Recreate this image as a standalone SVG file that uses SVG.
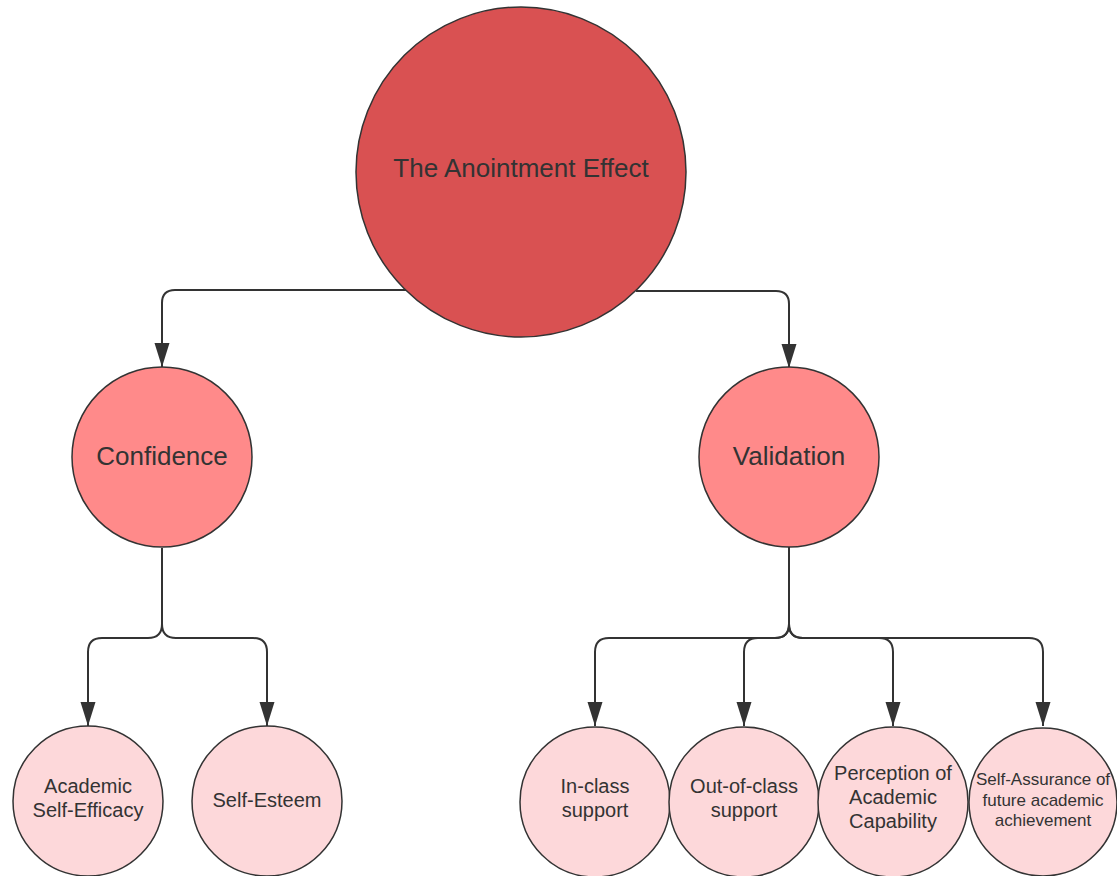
<svg xmlns="http://www.w3.org/2000/svg" width="1117" height="876" viewBox="0 0 1117 876">
<style>
.c{stroke:#333;stroke-width:1.5}
.l0{fill:#D95152}
.l1{fill:#FF8A8A}
.l2{fill:#FDD8DA}
text{font-family:"Liberation Sans",Arial,sans-serif;fill:#333;text-anchor:middle}
.t0{font-size:26px}
.t2{font-size:20px}
.t3{font-size:17px}
.e{fill:none;stroke:#333;stroke-width:2}
</style>
<defs>
<marker id="arr" viewBox="0 0 24 16" refX="24" refY="8" markerWidth="24" markerHeight="16" markerUnits="userSpaceOnUse" orient="auto">
<path d="M0 0.5 L24 8 L0 15.5 Z" fill="#333"/>
</marker>
</defs>
<g id="connectors">
<path class="e" marker-end="url(#arr)" d="M406 290 H175 Q162 290 162 303 V367"/>
<path class="e" marker-end="url(#arr)" d="M636 291 H776 Q789 291 789 304 V368"/>
<path class="e" marker-end="url(#arr)" d="M162 548 V624 Q162 638 148 638 H102 Q88 638 88 652 V726"/>
<path class="e" marker-end="url(#arr)" d="M162 548 V624 Q162 638 176 638 H253 Q267 638 267 652 V726"/>
<path class="e" marker-end="url(#arr)" d="M789 547 V624 Q789 638 775 638 H609 Q595 638 595 652 V726"/>
<path class="e" marker-end="url(#arr)" d="M789 547 V624 Q789 638 775 638 H758 Q744 638 744 652 V726"/>
<path class="e" marker-end="url(#arr)" d="M789 547 V624 Q789 638 803 638 H879 Q893 638 893 652 V726"/>
<path class="e" marker-end="url(#arr)" d="M789 547 V624 Q789 638 803 638 H1029 Q1043 638 1043 652 V726"/>
</g>
<g id="anointment">
<circle class="c l0" cx="521" cy="172" r="165"/>
<text class="t0" x="521" y="177">The Anointment Effect</text>
</g>
<g id="confidence">
<circle class="c l1" cx="162" cy="457" r="90"/>
<text class="t0" x="162" y="465">Confidence</text>
</g>
<g id="validation">
<circle class="c l1" cx="789" cy="457" r="90"/>
<text class="t0" x="789" y="465">Validation</text>
</g>
<g id="self-efficacy">
<circle class="c l2" cx="88" cy="801" r="75"/>
<text class="t2" x="88" y="793">Academic</text>
<text class="t2" x="88" y="817">Self-Efficacy</text>
</g>
<g id="self-esteem">
<circle class="c l2" cx="267" cy="801" r="75"/>
<text class="t2" x="267" y="807">Self-Esteem</text>
</g>
<g id="in-class">
<circle class="c l2" cx="595" cy="802" r="75"/>
<text class="t2" x="595" y="793">In-class</text>
<text class="t2" x="595" y="817">support</text>
</g>
<g id="out-of-class">
<circle class="c l2" cx="744" cy="802" r="75"/>
<text class="t2" x="744" y="793">Out-of-class</text>
<text class="t2" x="744" y="817">support</text>
</g>
<g id="perception">
<circle class="c l2" cx="893" cy="802" r="75"/>
<text class="t2" x="893" y="780">Perception of</text>
<text class="t2" x="893" y="804">Academic</text>
<text class="t2" x="893" y="828">Capability</text>
</g>
<g id="self-assurance">
<circle class="c l2" cx="1043" cy="802" r="74"/>
<text class="t3" x="1043" y="785">Self-Assurance of</text>
<text class="t3" x="1043" y="806">future academic</text>
<text class="t3" x="1043" y="826">achievement</text>
</g>
</svg>
